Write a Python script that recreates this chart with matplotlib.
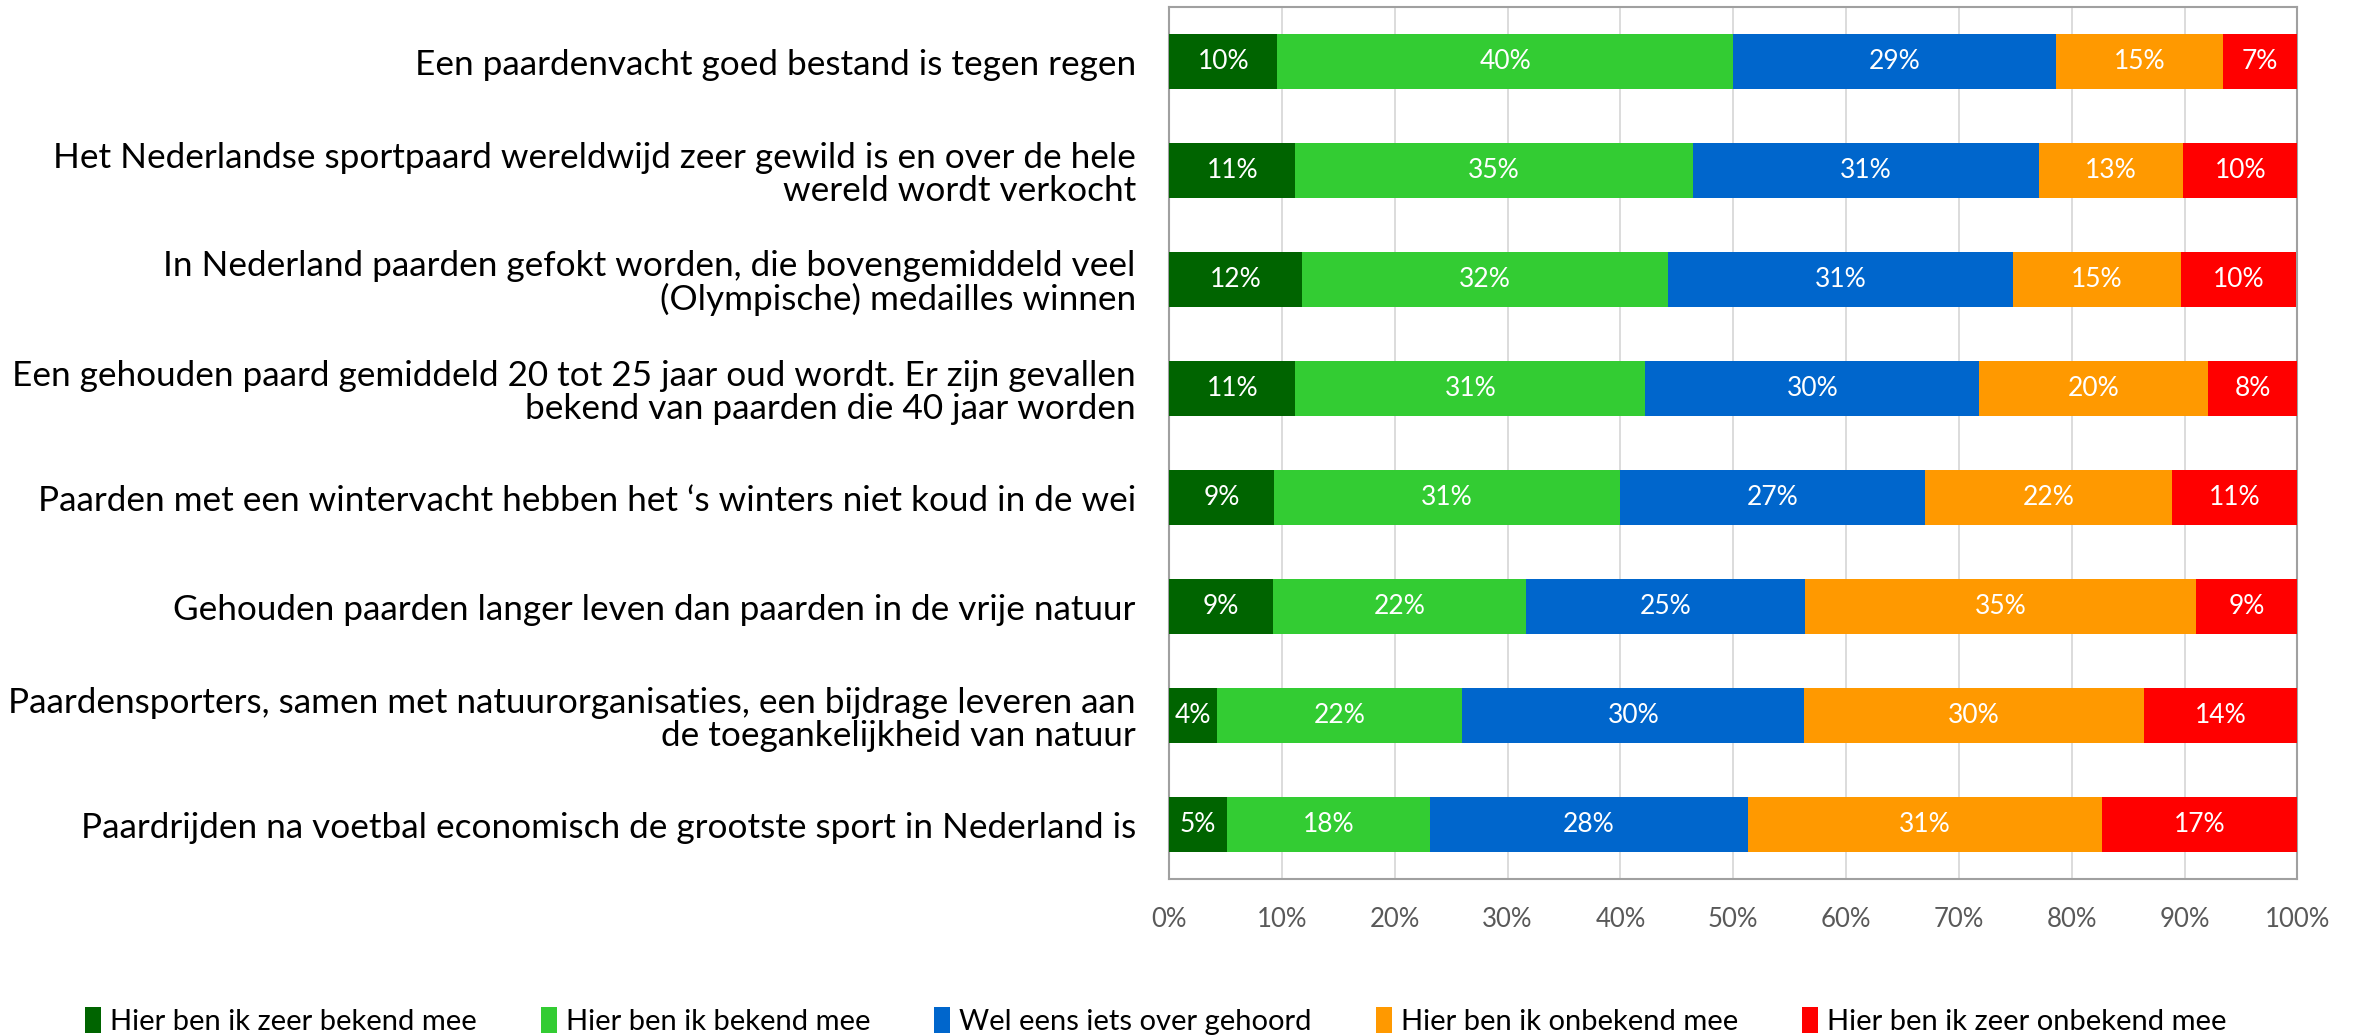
import numpy as np
import matplotlib
matplotlib.use("Agg")
import matplotlib.pyplot as plt
from matplotlib.ticker import PercentFormatter

plt.rcParams['font.family'] = ['Lato', 'DejaVu Sans']

# Statements (top to bottom)
statements = [
    "Een paardenvacht goed bestand is tegen regen",
    "Het Nederlandse sportpaard wereldwijd zeer gewild is en over de hele\nwereld wordt verkocht",
    "In Nederland paarden gefokt worden, die bovengemiddeld veel\n(Olympische) medailles winnen",
    "Een gehouden paard gemiddeld 20 tot 25 jaar oud wordt. Er zijn gevallen\nbekend van paarden die 40 jaar worden",
    "Paarden met een wintervacht hebben het \u2018s winters niet koud in de wei",
    "Gehouden paarden langer leven dan paarden in de vrije natuur",
    "Paardensporters, samen met natuurorganisaties, een bijdrage leveren aan\nde toegankelijkheid van natuur",
    "Paardrijden na voetbal economisch de grootste sport in Nederland is",
]

answers = [
    "Hier ben ik zeer bekend mee",
    "Hier ben ik bekend mee",
    "Wel eens iets over gehoord",
    "Hier ben ik onbekend mee",
    "Hier ben ik zeer onbekend mee",
]

# shares per answer, one value per statement (%)
zeer_bekend = [9.6, 11.2, 11.8, 11.2, 9.3, 9.2, 4.2, 5.1]
bekend = [40.4, 35.2, 32.4, 31.0, 30.7, 22.4, 21.8, 18.0]
gehoord = [28.6, 30.7, 30.6, 29.6, 27.0, 24.8, 30.3, 28.2]
onbekend = [14.8, 12.8, 14.9, 20.3, 21.9, 34.6, 30.1, 31.4]
zeer_onbekend = [6.6, 10.1, 10.2, 7.9, 11.1, 9.0, 13.7, 17.3]

series = [zeer_bekend, bekend, gehoord, onbekend, zeer_onbekend]
colors = ['#006400', '#33CC33', '#0066CC', '#FF9900', '#FF0000']

fig = plt.figure(figsize=(23.59, 10.35), dpi=100)
ax = fig.add_axes([0.4956, 0.1507, 0.4783, 0.8425])

y = np.arange(len(statements))
left = np.zeros(len(statements))
for vals, col, name in zip(series, colors, answers):
    vals = np.array(vals)
    bars = ax.barh(y, vals, left=left, height=0.5, color=col, label=name, zorder=3)
    labels = [f"{v:.0f}%" for v in vals]
    ax.bar_label(bars, labels=labels, label_type='center', color='white', fontsize=19)
    left += vals

ax.set_xlim(0, 100)
ax.set_ylim(-0.5, len(statements) - 0.5)
ax.invert_yaxis()
ax.set_xticks(np.arange(0, 101, 10))
ax.xaxis.set_major_formatter(PercentFormatter(decimals=0))
ax.tick_params(axis='x', length=0, pad=20, labelsize=18.5, labelcolor='#595959')
ax.set_yticks(y)
ax.set_yticklabels(statements, fontsize=25.3, color='black', linespacing=1.05)
ax.tick_params(axis='y', length=0, pad=24)
ax.grid(axis='x', color='#D9D9D9', linewidth=1.3, zorder=0)
for sp in ax.spines.values():
    sp.set_color('#A0A0A0')
    sp.set_linewidth(1.5)

fig.legend(loc='lower left', bbox_to_anchor=(0.025, -0.025), ncol=5, frameon=False,
           fontsize=21, handlelength=0.55, handleheight=1.0, handletextpad=0.3,
           columnspacing=2.2)

fig.savefig("out.png", dpi=100)
